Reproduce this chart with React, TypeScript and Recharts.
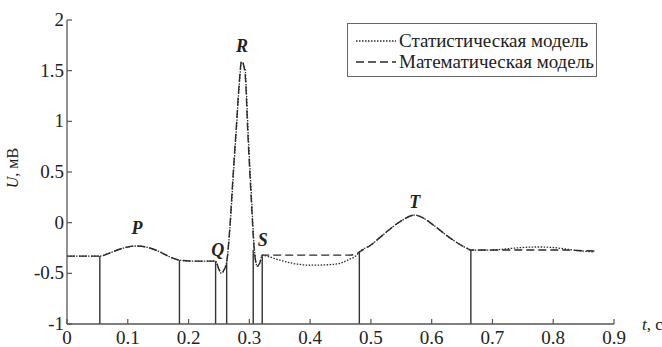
import React from 'react';
import { LineChart, Line, XAxis, YAxis, ReferenceLine, ReferenceDot } from 'recharts';

const tValues = [0, 0.054, 0.07, 0.085, 0.1, 0.115, 0.13, 0.15, 0.17, 0.185, 0.21, 0.2445, 0.25, 0.254, 0.258, 0.2627,
  0.268, 0.2735, 0.279, 0.2834, 0.2873, 0.2928, 0.298, 0.3038, 0.3076, 0.313, 0.317, 0.3212, 0.3285, 0.35, 0.38, 0.4,
  0.43, 0.45, 0.465, 0.475, 0.481, 0.5, 0.52, 0.548, 0.572, 0.585, 0.602, 0.63, 0.657, 0.6645, 0.7, 0.72, 0.75, 0.775,
  0.8, 0.82, 0.84, 0.868];
const mathValues = [-0.33, -0.33, -0.3, -0.265, -0.24, -0.23, -0.24, -0.28, -0.34, -0.37, -0.38, -0.38, -0.46, -0.5, -0.47, -0.39,
  -0.04, 0.49, 0.98, 1.38, 1.6, 1.48, 0.82, 0.16, -0.23, -0.43, -0.4, -0.32, -0.32, -0.32, -0.32, -0.32,
  -0.32, -0.32, -0.32, -0.31, -0.29, -0.22, -0.12, 0.01, 0.075, 0.05, -0.02, -0.15, -0.25, -0.27, -0.27, -0.27, -0.27, -0.27,
  -0.27, -0.27, -0.275, -0.28];
const statValues = [-0.33, -0.33, -0.3, -0.265, -0.24, -0.23, -0.24, -0.28, -0.34, -0.37, -0.38, -0.38, -0.46, -0.5, -0.47, -0.39,
  -0.06, 0.45, 0.95, 1.36, 1.58, 1.52, 0.9, 0.22, -0.2, -0.43, -0.4, -0.32, -0.33, -0.37, -0.41, -0.42,
  -0.415, -0.4, -0.36, -0.33, -0.29, -0.22, -0.12, 0.01, 0.075, 0.05, -0.02, -0.15, -0.25, -0.27, -0.27, -0.26, -0.245, -0.24,
  -0.245, -0.26, -0.275, -0.29];

const markerT = [0.054, 0.185, 0.2445, 0.2627, 0.3064, 0.3212, 0.481, 0.6645];
const markerU = [-0.33, -0.37, -0.38, -0.39, -0.27, -0.32, -0.29, -0.27];

const waveNames = ['P', 'Q', 'R', 'S', 'T'];
const waveT = [0.115, 0.248, 0.288, 0.322, 0.572];
const waveU = [-0.05, -0.27, 1.74, -0.17, 0.2];

const xTicks = [0, 0.1, 0.2, 0.3, 0.4, 0.5, 0.6, 0.7, 0.8, 0.9];
const yTicks = [-1, -0.5, 0, 0.5, 1, 1.5, 2];
const seriesNames = ['Статистическая модель', 'Математическая модель'];

const data = tValues.map((t, i) => ({ t, stat: statValues[i], math: mathValues[i] }));

const FONT = '"Liberation Serif"';
const INK = '#2a2a2a';
const AXIS = '#555';

const XTick = (props: any) => {
  const { x, y, payload } = props;
  return (
    <g>
      <line x1={x} y1={y} x2={x} y2={y - 5} stroke={AXIS} strokeWidth={1.2} />
      <text x={x} y={y + 20} textAnchor="middle" style={{ fontFamily: FONT }} fontSize={19} fill="#222">
        {String(payload.value)}
      </text>
    </g>
  );
};

const YTick = (props: any) => {
  const { x, y, payload } = props;
  return (
    <g>
      <line x1={x} y1={y} x2={x + 5} y2={y} stroke={AXIS} strokeWidth={1.2} />
      <text x={x - 3} y={y + 6} textAnchor="end" style={{ fontFamily: FONT }} fontSize={19} fill="#222">
        {String(payload.value)}
      </text>
    </g>
  );
};

const LegendBox = () => (
  <div
    style={{
      position: 'absolute',
      left: 347,
      top: 23,
      border: '1.3px solid #666',
      width: 250,
      height: 54,
      boxSizing: 'border-box',
      background: '#fff',
      fontFamily: FONT,
      fontSize: 19,
      color: '#222',
      paddingTop: 6,
    }}
  >
    {seriesNames.map((name, i) => (
      <div key={name} style={{ display: 'flex', alignItems: 'center', height: 21, whiteSpace: 'nowrap' }}>
        <svg width={44} height={10} style={{ marginLeft: 7, flex: 'none' }}>
          <line
            x1={1}
            y1={5}
            x2={41}
            y2={5}
            stroke={INK}
            strokeWidth={1.3}
            strokeDasharray={i === 0 ? '1.5 1.5' : '8 4'}
          />
        </svg>
        <span style={{ marginLeft: 0 }}>{name}</span>
      </div>
    ))}
  </div>
);

export default function App() {
  return (
    <div style={{ position: 'absolute', left: 0, top: 0, width: 662, height: 347, background: '#fff' }}>
      <LineChart width={662} height={347} data={data} margin={{ top: 20, right: 48, bottom: 0, left: 0 }}>
        <XAxis
          dataKey="t"
          type="number"
          domain={[0, 0.9]}
          ticks={xTicks}
          tick={<XTick />}
          tickLine={false}
          tickSize={0}
          tickMargin={0}
          height={23}
          stroke={AXIS}
          strokeWidth={1.3}
          interval={0}
        />
        <YAxis
          type="number"
          domain={[-1, 2]}
          ticks={yTicks}
          tick={<YTick />}
          tickLine={false}
          tickSize={0}
          tickMargin={0}
          width={67}
          stroke={AXIS}
          strokeWidth={1.3}
          interval={0}
        />
        {markerT.map((t, i) => (
          <ReferenceLine
            key={'m' + i}
            segment={[{ x: t, y: -1 }, { x: t, y: markerU[i] }]}
            stroke="#333"
            strokeWidth={1.4}
          />
        ))}
        <Line
          dataKey="stat"
          name={seriesNames[0]}
          type="monotone"
          stroke={INK}
          strokeWidth={1.3}
          strokeDasharray="1.5 1.5"
          dot={false}
          isAnimationActive={false}
        />
        <Line
          dataKey="math"
          name={seriesNames[1]}
          type="monotone"
          stroke={INK}
          strokeWidth={1.4}
          strokeDasharray="8 4"
          dot={false}
          isAnimationActive={false}
        />
        {waveNames.map((n, i) => (
          <ReferenceDot
            key={n}
            x={waveT[i]}
            y={waveU[i]}
            r={0}
            shape={(p: any) => (
              <text
                x={p.cx}
                y={p.cy + 6}
                textAnchor="middle"
                style={{ fontFamily: FONT }}
                fontStyle="italic"
                fontWeight="bold"
                fontSize={18}
                fill="#222"
              >
                {n}
              </text>
            )}
          />
        ))}
        <text
          x={18}
          y={168}
          transform="rotate(-90 18 168)"
          textAnchor="middle"
          style={{ fontFamily: FONT }}
          fontSize={16}
          fill="#222"
        >
          <tspan fontStyle="italic">U</tspan>
          <tspan>, мВ</tspan>
        </text>
        <text x={642} y={330} style={{ fontFamily: FONT }} fontSize={17} fill="#222">
          <tspan fontStyle="italic">t</tspan>
          <tspan>, c</tspan>
        </text>
      </LineChart>
      <LegendBox />
    </div>
  );
}
